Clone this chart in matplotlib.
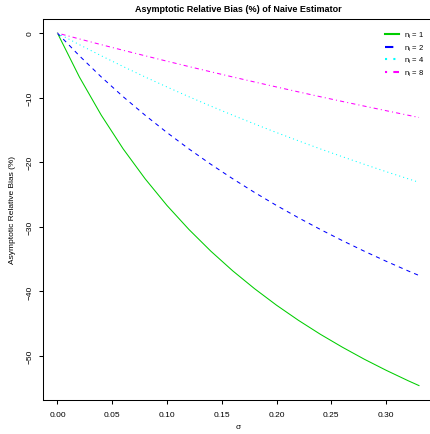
import matplotlib
matplotlib.use("Agg")
import matplotlib.pyplot as plt

sigma = [0.00, 0.02, 0.04, 0.06, 0.08, 0.10, 0.12, 0.14, 0.16, 0.18,
         0.20, 0.22, 0.24, 0.26, 0.28, 0.30, 0.32, 0.33]
bias_n1 = [0.0, -6.79, -12.71, -17.93, -22.55, -26.69, -30.40, -33.76, -36.81, -39.58,
           -42.13, -44.47, -46.63, -48.62, -50.48, -52.20, -53.81, -54.57]
bias_n2 = [0.0, -3.51, -6.79, -9.85, -12.71, -15.40, -17.93, -20.31, -22.55, -24.68,
           -26.69, -28.59, -30.40, -32.12, -33.76, -35.32, -36.81, -37.52]
bias_n4 = [0.0, -1.79, -3.51, -5.18, -6.79, -8.34, -9.85, -11.30, -12.71, -14.07,
           -15.40, -16.68, -17.93, -19.13, -20.31, -21.45, -22.55, -23.10]
bias_n8 = [0.0, -0.90, -1.79, -2.66, -3.51, -4.35, -5.18, -5.99, -6.79, -7.57,
           -8.34, -9.10, -9.85, -10.58, -11.30, -12.01, -12.71, -13.06]
labels = [r"n$_\mathregular{i}$ = 1", r"n$_\mathregular{i}$ = 2",
          r"n$_\mathregular{i}$ = 4", r"n$_\mathregular{i}$ = 8"]
xticks = [0.00, 0.05, 0.10, 0.15, 0.20, 0.25, 0.30]
yticks = [0, -10, -20, -30, -40, -50]

plt.rcParams['font.family'] = ['Liberation Sans', 'DejaVu Sans']
plt.rcParams['mathtext.fontset'] = 'custom'
plt.rcParams['mathtext.rm'] = 'Liberation Sans'
plt.rcParams['mathtext.it'] = 'Liberation Sans:italic'

fig = plt.figure(figsize=(4.30, 4.35), dpi=100)
ax = fig.add_axes([0.1, 0.0789, 0.908, 0.8751])

series = [bias_n1, bias_n2, bias_n4, bias_n8]
colors = ['#00CD00', '#0000FF', '#00FFFF', '#FF00FF']
dashes = [None, (4, 4), (1, 3), (1, 3, 4, 3)]
for ys, c, d, lab in zip(series, colors, dashes, labels):
    kw = dict(color=c, lw=0.75, label=lab)
    if d is not None:
        kw['dashes'] = d
    ax.plot(sigma, ys, **kw)

xmax = 0.33
ymin, ymax = -54.57, 0.0
ax.set_xlim(-0.04 * xmax, xmax * 1.04)
ax.set_ylim(ymin - 0.04 * (ymax - ymin), ymax + 0.04 * (ymax - ymin))

ax.set_xticks(xticks)
ax.set_xticklabels([f"{v:.2f}" for v in xticks])
ax.set_yticks(yticks)
ax.set_yticklabels([str(v).replace('-', '\u2212') for v in yticks],
                   rotation=90, va='center')
ax.tick_params(axis='both', labelsize=6, length=3, width=0.75)
ax.tick_params(axis='x', pad=5)
ax.tick_params(axis='y', pad=3.5)
for s in ax.spines.values():
    s.set_linewidth(0.75)

ax.set_title("Asymptotic Relative Bias (%) of Naive Estimator", fontsize=6.5,
             fontweight='bold', pad=6)
ax.set_xlabel("σ", fontsize=6, labelpad=4)
ax.set_ylabel("Asymptotic Relative Bias (%)", fontsize=6, labelpad=8)

leg = ax.legend(loc='upper right', frameon=False, fontsize=5.5, handlelength=1.9,
                handletextpad=0.6, labelspacing=0.3, borderaxespad=0.3,
                bbox_to_anchor=(0.99, 0.985))
for h in leg.get_lines():
    h.set_linewidth(1.5)

fig.savefig("out.png", dpi=100)
